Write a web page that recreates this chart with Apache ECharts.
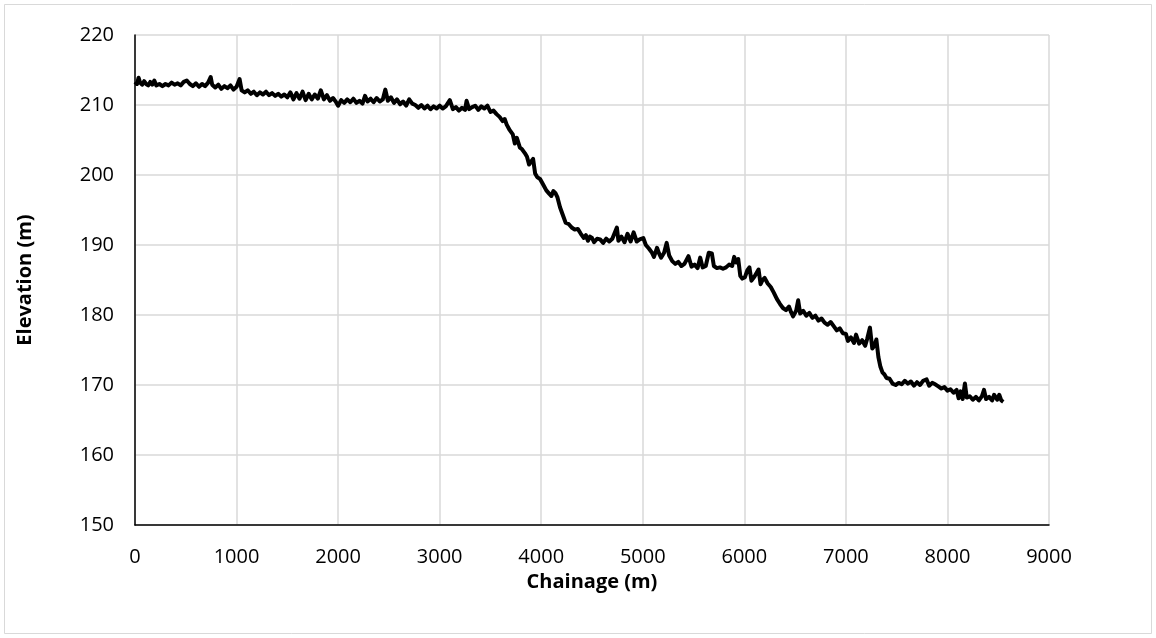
<!DOCTYPE html>
<html>
<head>
<meta charset="utf-8">
<script src="https://cdn.jsdelivr.net/npm/echarts@6/dist/echarts.min.js"></script>
<style>
  html, body { margin: 0; padding: 0; background: #fff; }
  #chart { width: 1156px; height: 638px; }
</style>
</head>
<body>
<div id="chart"></div>
<script>
// Chainage (m) read from the profile
const chainage = [
  0, 20, 35, 50, 70, 90, 110, 130, 150, 170, 190, 210, 240, 270, 300, 330, 360, 390, 420, 450,
  480, 510, 540, 570, 600, 630, 660, 690, 720, 745, 760, 790, 820, 850, 880, 910, 940, 970, 1000, 1030,
  1050, 1080, 1110, 1140, 1170, 1200, 1230, 1260, 1290, 1320, 1350, 1380, 1410, 1440, 1470, 1500, 1530, 1560, 1590, 1620,
  1650, 1680, 1710, 1740, 1770, 1800, 1830, 1860, 1890, 1920, 1950, 1980, 2000, 2030, 2060, 2090, 2120, 2150, 2180, 2210,
  2240, 2265, 2290, 2320, 2350, 2380, 2410, 2440, 2465, 2490, 2520, 2550, 2580, 2610, 2640, 2670, 2700, 2730, 2760, 2790,
  2820, 2850, 2880, 2910, 2940, 2970, 3000, 3030, 3060, 3100, 3130, 3160, 3190, 3220, 3250, 3265, 3290, 3320, 3350, 3380,
  3410, 3440, 3470, 3500, 3530, 3560, 3590, 3620, 3640, 3660, 3690, 3720, 3740, 3760, 3790, 3810, 3840, 3860, 3880, 3900,
  3920, 3940, 3960, 3990, 4020, 4050, 4080, 4100, 4120, 4140, 4160, 4185, 4210, 4240, 4270, 4300, 4330, 4360, 4390, 4420,
  4440, 4460, 4480, 4500, 4520, 4550, 4580, 4610, 4640, 4670, 4700, 4745, 4760, 4790, 4820, 4850, 4880, 4910, 4940, 4970,
  5005, 5030, 5060, 5090, 5110, 5140, 5160, 5180, 5210, 5235, 5260, 5290, 5320, 5350, 5380, 5410, 5450, 5480, 5510, 5540,
  5565, 5590, 5620, 5650, 5680, 5700, 5730, 5760, 5790, 5820, 5850, 5880, 5900, 5920, 5940, 5960, 5980, 6006, 6030, 6050,
  6070, 6100, 6140, 6160, 6180, 6200, 6230, 6260, 6290, 6320, 6350, 6380, 6410, 6440, 6460, 6480, 6510, 6530, 6550, 6580,
  6610, 6640, 6670, 6700, 6730, 6760, 6790, 6820, 6850, 6880, 6910, 6940, 6970, 7000, 7020, 7050, 7080, 7100, 7130, 7160,
  7190, 7210, 7237, 7260, 7280, 7300, 7320, 7340, 7360, 7380, 7400, 7430, 7460, 7490, 7520, 7550, 7580, 7610, 7640, 7670,
  7700, 7730, 7760, 7795, 7820, 7850, 7880, 7910, 7940, 7970, 8000, 8030, 8060, 8090, 8110, 8130, 8150, 8172, 8190, 8220,
  8250, 8280, 8310, 8340, 8360, 8380, 8410, 8440, 8460, 8490, 8510, 8530, 8550
]

// Elevation (m)
const elevation = [
  213.3, 213.0, 213.9, 213.2, 212.9, 213.4, 213.0, 212.8, 213.3, 212.9, 213.5, 212.8, 213.0, 212.7, 213.0, 212.8, 213.2, 212.9, 213.1, 212.8,
  213.3, 213.5, 213.0, 212.7, 213.1, 212.6, 213.0, 212.7, 213.2, 214.0, 212.9, 212.5, 212.9, 212.3, 212.7, 212.4, 212.8, 212.2, 212.6, 213.7,
  212.1, 211.8, 212.1, 211.6, 211.9, 211.4, 211.8, 211.5, 211.9, 211.4, 211.7, 211.3, 211.6, 211.2, 211.5, 211.1, 211.8, 210.8, 211.7, 210.9,
  211.9, 210.7, 211.6, 210.8, 211.5, 210.9, 212.1, 210.8, 211.4, 210.6, 211.0, 210.4, 209.9, 210.7, 210.3, 210.8, 210.4, 210.9, 210.3, 210.6,
  210.2, 211.3, 210.5, 210.9, 210.4, 211.0, 210.5, 210.8, 212.2, 210.6, 211.1, 210.3, 210.8, 210.1, 210.5, 209.9, 210.8, 210.2, 210.0, 209.6,
  210.0, 209.5, 209.9, 209.4, 209.8, 209.5, 209.9, 209.5, 209.8, 210.7, 209.4, 209.7, 209.2, 209.6, 209.3, 210.6, 209.4, 209.7, 209.9, 209.3,
  209.8, 209.5, 209.9, 209.0, 209.2, 208.7, 208.3, 207.7, 208.0, 207.2, 206.4, 205.8, 204.5, 205.3, 203.9, 203.7, 203.1, 202.6, 201.5, 201.9,
  202.3, 200.2, 199.7, 199.4, 198.6, 197.8, 197.3, 197.0, 197.7, 197.4, 196.8, 195.4, 194.4, 193.2, 193.0, 192.5, 192.2, 192.3, 191.6, 191.0,
  191.4, 190.6, 191.2, 191.0, 190.4, 190.9, 190.8, 190.3, 190.9, 190.5, 190.9, 192.5, 190.6, 191.2, 190.4, 191.6, 190.5, 191.8, 190.5, 190.8,
  191.0, 190.0, 189.5, 188.9, 188.3, 189.6, 188.8, 188.2, 188.9, 190.3, 188.5, 187.7, 187.3, 187.6, 187.0, 187.3, 188.4, 186.9, 187.2, 186.7,
  188.2, 186.8, 187.0, 188.9, 188.8, 187.0, 186.7, 186.8, 186.6, 186.8, 187.2, 187.0, 188.3, 187.5, 188.0, 185.6, 185.2, 185.4, 186.4, 186.8,
  184.9, 185.5, 186.5, 184.4, 185.0, 185.3, 184.5, 184.0, 183.2, 182.3, 181.6, 181.0, 180.7, 181.2, 180.4, 179.8, 180.6, 182.1, 180.2, 180.6,
  179.9, 180.3, 179.6, 179.9, 179.2, 179.5, 178.9, 178.6, 179.0, 178.4, 177.8, 178.1, 177.4, 177.3, 176.3, 176.8, 176.0, 177.2, 175.9, 176.4,
  175.6, 176.6, 178.2, 175.2, 175.6, 176.5, 174.0, 172.6, 171.8, 171.5, 171.0, 170.9, 170.2, 170.0, 170.3, 170.1, 170.6, 170.2, 170.5, 169.9,
  170.4, 170.0, 170.6, 170.8, 169.9, 170.3, 170.1, 169.8, 169.5, 169.7, 169.2, 169.4, 168.9, 169.3, 168.1, 169.1, 168.0, 170.2, 168.2, 168.4,
  167.9, 168.3, 167.8, 168.4, 169.3, 168.0, 168.3, 167.8, 168.6, 167.9, 168.6, 167.8, 167.6
]

const xTicks = [0, 9000, 1000]   // min, max, interval
const yTicks = [150, 220, 10]

const chart = echarts.init(document.getElementById('chart'))

const font = '"Open Sans", "Liberation Sans", sans-serif'

const option = {
  backgroundColor: '#fff',
  animation: false,
  graphic: [{
    type: 'rect',
    shape: { x: 4.5, y: 4.5, width: 1147, height: 629 },
    style: { fill: 'none', stroke: '#d9d9d9', lineWidth: 1 },
    silent: true
  }],
  grid: {
    left: 135,
    right: 107,
    top: 35,
    bottom: 113
  },
  xAxis: {
    type: 'value',
    min: xTicks[0],
    max: xTicks[1],
    interval: xTicks[2],
    name: 'Chainage (m)',
    nameLocation: 'middle',
    nameGap: 44,
    nameTextStyle: { color: '#000', fontFamily: font, fontSize: 20, fontWeight: 'bold' },
    axisLine: { onZero: false, lineStyle: { color: '#000', width: 1.5 } },
    axisTick: { show: false },
    axisLabel: { color: '#000', fontFamily: font, fontSize: 20, margin: 22, formatter: v => String(v) },
    splitLine: { lineStyle: { color: '#d9d9d9', width: 1.5 } }
  },
  yAxis: {
    type: 'value',
    min: yTicks[0],
    max: yTicks[1],
    interval: yTicks[2],
    name: 'Elevation (m)',
    nameLocation: 'middle',
    nameGap: 100,
    nameTextStyle: { color: '#000', fontFamily: font, fontSize: 20, fontWeight: 'bold' },
    axisLine: { show: true, lineStyle: { color: '#000', width: 1.5 } },
    axisTick: { show: false },
    axisLabel: { color: '#000', fontFamily: font, fontSize: 20, margin: 21 },
    splitLine: { lineStyle: { color: '#d9d9d9', width: 1.5 } }
  },
  series: [{
    type: 'line',
    data: chainage.map((c, i) => [c, elevation[i]]),
    showSymbol: false,
    smooth: false,
    lineStyle: { color: '#000', width: 4, join: 'round' }
  }]
}

chart.setOption(option)
</script>
</body>
</html>
